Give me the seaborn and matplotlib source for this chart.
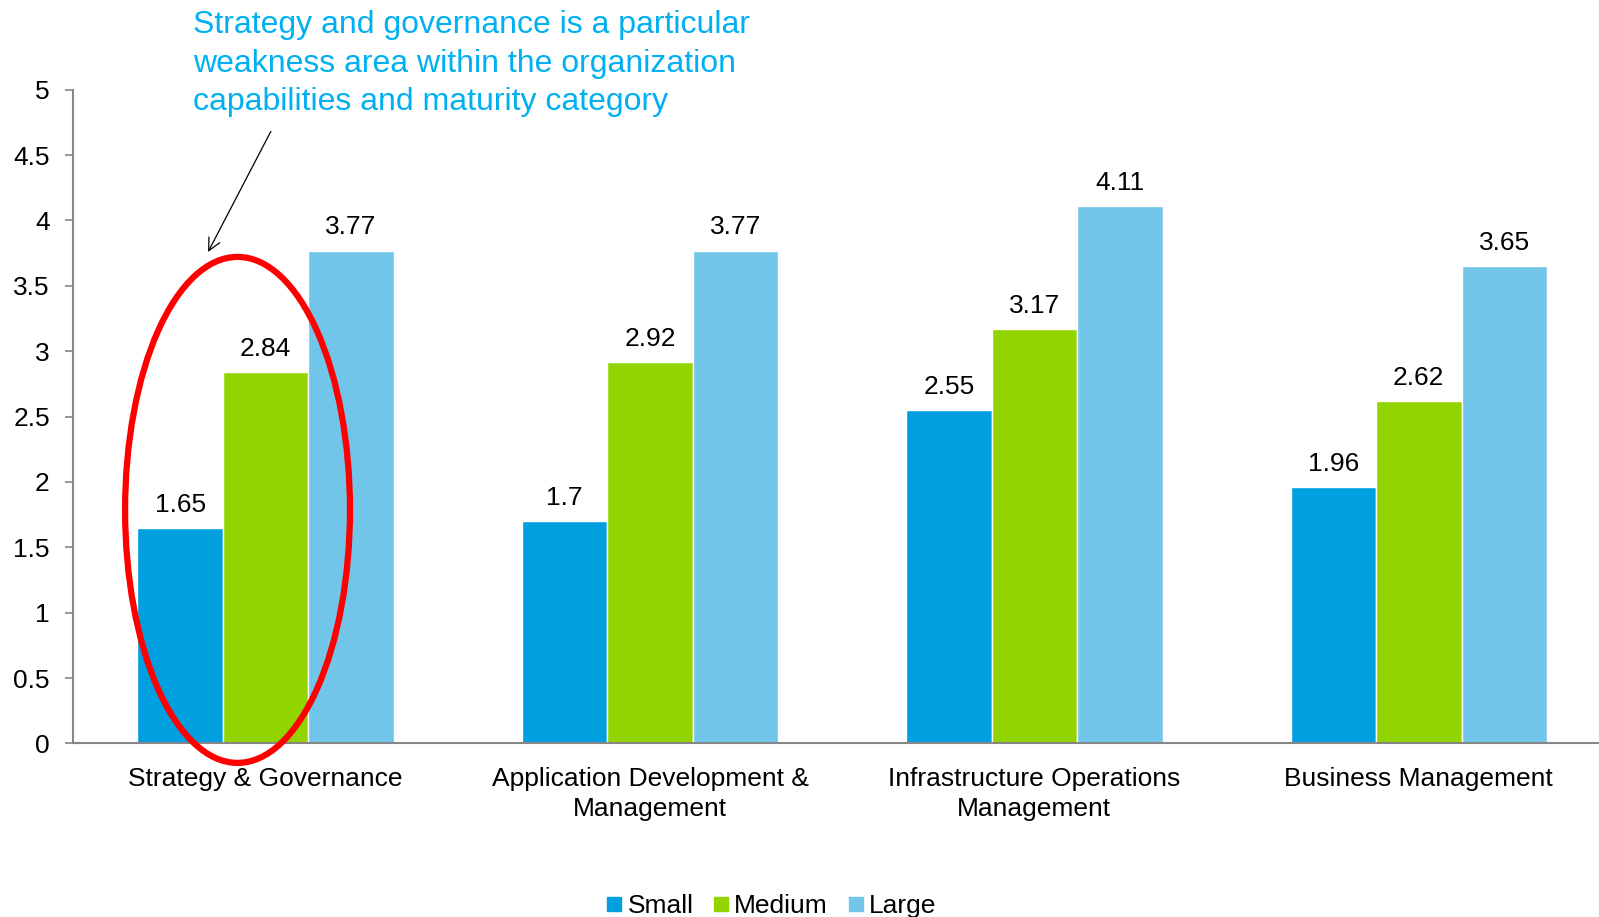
import numpy as np
import pandas as pd
import matplotlib
matplotlib.use("Agg")
import matplotlib.pyplot as plt
from matplotlib.patches import Ellipse
from matplotlib.lines import Line2D
import seaborn as sns

categories = ["Strategy & Governance", "Application Development &\nManagement",
              "Infrastructure Operations\nManagement", "Business Management"]
sizes = ["Small", "Medium", "Large"]
small = [1.65, 1.7, 2.55, 1.96]
medium = [2.84, 2.92, 3.17, 2.62]
large = [3.77, 3.77, 4.11, 3.65]
colors = ["#009FDF", "#92D400", "#71C5E8"]
yticks = [0, 0.5, 1, 1.5, 2, 2.5, 3, 3.5, 4, 4.5, 5]
ytick_labels = ["0", "0.5", "1", "1.5", "2", "2.5", "3", "3.5", "4", "4.5", "5"]
note = ("Strategy and governance is a particular\n"
        "weakness area within the organization\n"
        "capabilities and maturity category")

df = pd.DataFrame({
    "category": categories * 3,
    "size": sum([[s] * 4 for s in sizes], []),
    "value": small + medium + large,
})

sns.set_theme(style="white")
plt.rcParams["font.family"] = ["Liberation Sans", "DejaVu Sans"]
plt.rcParams["text.color"] = "black"
plt.rcParams["xtick.color"] = "black"
plt.rcParams["ytick.color"] = "black"

fig = plt.figure(figsize=(15.99, 9.17), dpi=100)
ax = fig.add_axes([0.0459, 0.1893, 0.9616, 0.7129])

sns.barplot(data=df, x="category", y="value", hue="size", palette=colors,
            width=0.667, saturation=1, edgecolor="white", linewidth=1,
            ax=ax, legend=False)

for cont in ax.containers:
    ax.bar_label(cont, labels=[f"{v:g}" for v in cont.datavalues],
                 padding=8, fontsize=19, color="black")

ax.set_xlim(-0.5, 3.5)
ax.set_ylim(0, 5)
ax.set_yticks(yticks)
ax.set_yticklabels(ytick_labels, fontsize=19, color="black")
ax.set_xlabel("")
ax.set_ylabel("")
ax.set_xticks(range(4))
ax.set_xticklabels(categories, fontsize=19, linespacing=1.3, color="black")
ax.set_xticks([-0.5, 0.5, 1.5, 2.5, 3.5], minor=True)
ax.tick_params(axis="x", which="major", length=0, pad=17)
ax.tick_params(axis="x", which="minor", length=8, color="#868686", width=1.2, direction="out")
ax.tick_params(axis="y", length=6, color="#868686", width=1.2, direction="out", left=True, pad=11)
for s in ["top", "right"]:
    ax.spines[s].set_visible(False)
for s in ["left", "bottom"]:
    ax.spines[s].set_color("#868686")
    ax.spines[s].set_linewidth(1.5)

ell = Ellipse((-0.073, 1.786), 0.585, 3.87, fill=False, edgecolor="#FF0000",
              lw=4.5, clip_on=False, zorder=5)
ax.add_patch(ell)
ax.annotate("", xy=(-0.153, 3.74), xytext=(0.017, 4.70),
            arrowprops=dict(arrowstyle="->", color="black", lw=0.9, mutation_scale=22),
            annotation_clip=False)

fig.text(0.1205, 1 - 10 / 917, note, color="#00B0F0", fontsize=23,
         va="top", ha="left", linespacing=1.38)

handles = [Line2D([0], [0], marker="s", color="none", markerfacecolor=c,
                  markeredgecolor=c, markersize=10, label=s) for s, c in zip(sizes, colors)]
fig.legend(handles=handles, loc="center", bbox_to_anchor=(0.482, 0.012), ncol=3,
           frameon=False, fontsize=19, handlelength=0.7, handletextpad=0.15,
           columnspacing=0.7)

fig.savefig("out.png", dpi=100)
